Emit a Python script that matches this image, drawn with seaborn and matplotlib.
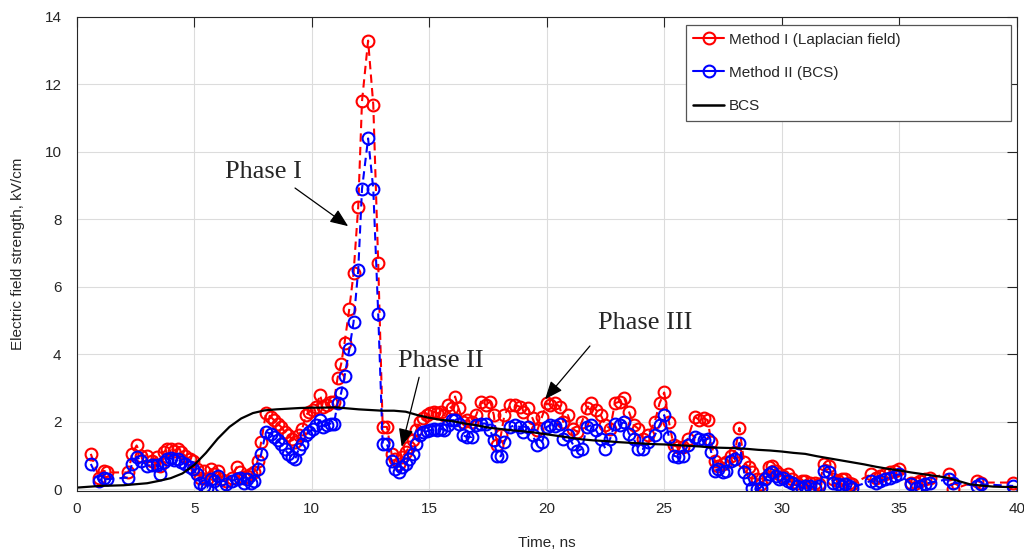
import numpy as np
import pandas as pd
import matplotlib
matplotlib.use("Agg")
import matplotlib.pyplot as plt
import seaborn as sns
from matplotlib.lines import Line2D

# ---------------- data ----------------
time_ns = [0.6, 0.95, 1.15, 1.3, 2.2, 2.35, 2.55, 2.75, 3.0, 3.2, 3.4, 3.55, 3.7, 3.85, 4.0, 4.15,
           4.3, 4.45, 4.6, 4.8, 4.95, 5.1, 5.25, 5.4, 5.55, 5.7, 5.85, 6.0, 6.15, 6.35, 6.6, 6.8,
           6.95, 7.1, 7.25, 7.4, 7.55, 7.7, 7.85, 8.05, 8.25, 8.4, 8.55, 8.7, 8.85, 9.0, 9.15, 9.3,
           9.45, 9.6, 9.75, 9.9, 10.05, 10.2, 10.35, 10.5, 10.65, 10.8, 10.95, 11.1, 11.25, 11.4,
           11.6, 11.78, 11.98, 12.14, 12.4, 12.62, 12.83, 13.02, 13.2, 13.4, 13.55, 13.7, 13.85,
           14.0, 14.15, 14.3, 14.45, 14.6, 14.75, 14.9, 15.05, 15.2, 15.35, 15.5, 15.65, 15.8,
           15.95, 16.1, 16.25, 16.45, 16.6, 16.8, 17.0, 17.2, 17.4, 17.6, 17.75, 17.9, 18.05,
           18.2, 18.45, 18.65, 18.85, 19.0, 19.2, 19.4, 19.6, 19.8, 20.0, 20.15, 20.35, 20.55,
           20.7, 20.9, 21.1, 21.3, 21.5, 21.7, 21.9, 22.1, 22.3, 22.5, 22.7, 22.9, 23.1, 23.3,
           23.5, 23.7, 23.9, 24.1, 24.3, 24.6, 24.8, 25.0, 25.2, 25.4, 25.6, 25.8, 26.0, 26.3,
           26.5, 26.7, 26.85, 27.0, 27.15, 27.3, 27.5, 27.65, 27.85, 28.0, 28.2, 28.4, 28.6,
           28.75, 28.95, 29.1, 29.3, 29.45, 29.6, 29.75, 29.9, 30.05, 30.25, 30.45, 30.65, 30.85,
           31.0, 31.2, 31.4, 31.6, 31.8, 32.0, 32.2, 32.4, 32.55, 32.7, 32.85, 33.0, 33.8, 34.0,
           34.2, 34.4, 34.6, 34.8, 35.0, 35.5, 35.7, 35.9, 36.1, 36.3, 37.1, 37.3, 38.3, 38.5,
           39.85]

method1_laplacian = [1.05, 0.35, 0.55, 0.5, 0.5, 1.05, 1.3, 1.0, 1.0, 0.85, 0.95, 0.7, 1.1, 1.2,
                     1.2, 1.15, 1.2, 1.1, 1.0, 0.9, 0.85, 0.6, 0.35, 0.55, 0.3, 0.6, 0.45, 0.55,
                     0.3, 0.25, 0.35, 0.65, 0.5, 0.35, 0.4, 0.45, 0.5, 0.85, 1.4, 2.25, 2.15, 2.05,
                     1.95, 1.85, 1.7, 1.6, 1.5, 1.4, 1.6, 1.8, 2.2, 2.3, 2.35, 2.45, 2.8, 2.45,
                     2.5, 2.6, 2.6, 3.3, 3.7, 4.35, 5.35, 6.4, 8.38, 11.5, 13.3, 11.4, 6.7, 1.85,
                     1.85, 1.05, 0.9, 0.75, 0.95, 1.1, 1.25, 1.45, 1.75, 2.0, 2.1, 2.2, 2.25, 2.3,
                     2.25, 2.3, 2.2, 2.5, 2.4, 2.75, 2.4, 2.0, 2.05, 2.0, 2.2, 2.6, 2.5, 2.6, 2.2,
                     1.3, 1.6, 2.2, 2.5, 2.5, 2.45, 2.3, 2.4, 2.1, 1.75, 2.15, 2.55, 2.5, 2.56,
                     2.45, 2.0, 2.2, 1.8, 1.7, 2.0, 2.4, 2.55, 2.35, 2.2, 1.9, 1.8, 2.55, 2.6, 2.7,
                     2.3, 1.9, 1.8, 1.5, 1.6, 2.0, 2.55, 2.87, 2.0, 1.3, 1.25, 1.25, 1.5, 2.15,
                     2.05, 2.1, 2.05, 1.4, 0.85, 0.7, 0.75, 0.8, 1.0, 1.1, 1.82, 0.8, 0.65, 0.5,
                     0.3, 0.15, 0.35, 0.65, 0.7, 0.55, 0.45, 0.4, 0.45, 0.3, 0.2, 0.25, 0.25, 0.2,
                     0.2, 0.15, 0.75, 0.7, 0.3, 0.25, 0.3, 0.3, 0.2, 0.15, 0.45, 0.35, 0.4, 0.45,
                     0.5, 0.55, 0.6, 0.2, 0.2, 0.25, 0.3, 0.35, 0.45, 0.0, 0.25, 0.2, 0.2]

method2_bcs = [0.75, 0.25, 0.35, 0.3, 0.35, 0.75, 0.97, 0.85, 0.7, 0.72, 0.72, 0.45, 0.8, 0.9,
               0.92, 0.88, 0.9, 0.8, 0.75, 0.65, 0.6, 0.45, 0.2, 0.1, 0.05, 0.3, 0.25, 0.4, 0.1,
               0.15, 0.25, 0.3, 0.35, 0.2, 0.3, 0.2, 0.25, 0.6, 1.05, 1.7, 1.65, 1.55, 1.45,
               1.35, 1.2, 1.05, 0.95, 0.9, 1.2, 1.35, 1.6, 1.7, 1.8, 1.9, 2.05, 1.85, 1.9, 1.95,
               1.95, 2.55, 2.85, 3.35, 4.15, 4.95, 6.5, 8.9, 10.4, 8.9, 5.2, 1.35, 1.35, 0.85,
               0.6, 0.5, 0.65, 0.75, 0.9, 1.05, 1.35, 1.6, 1.7, 1.72, 1.75, 1.78, 1.75, 1.8,
               1.75, 1.9, 2.05, 2.05, 1.95, 1.6, 1.55, 1.55, 1.9, 1.95, 1.95, 1.75, 1.45, 0.98,
               0.98, 1.4, 1.85, 1.9, 1.85, 1.7, 1.85, 1.6, 1.3, 1.4, 1.85, 1.9, 1.87, 1.95, 1.5,
               1.6, 1.35, 1.13, 1.2, 1.85, 1.9, 1.75, 1.5, 1.2, 1.5, 1.95, 1.9, 2.0, 1.65, 1.5,
               1.2, 1.2, 1.4, 1.6, 1.9, 2.2, 1.55, 1.0, 0.95, 1.0, 1.3, 1.55, 1.5, 1.45, 1.5,
               1.1, 0.55, 0.6, 0.5, 0.55, 0.85, 0.9, 1.38, 0.5, 0.3, 0.05, 0.0, 0.05, 0.3, 0.45,
               0.5, 0.4, 0.3, 0.35, 0.25, 0.2, 0.1, 0.05, 0.1, 0.1, 0.05, 0.1, 0.55, 0.5, 0.2,
               0.15, 0.1, 0.15, 0.1, 0.05, 0.25, 0.2, 0.25, 0.3, 0.35, 0.4, 0.45, 0.15, 0.05,
               0.1, 0.15, 0.2, 0.3, 0.2, 0.1, 0.15, 0.1]

bcs_time = [0, 1, 2, 3, 3.5, 4, 4.5, 5, 5.5, 6, 6.5, 7, 7.5, 8, 8.5, 9, 9.5, 10, 10.5, 11,
            11.5, 12, 12.5, 13, 13.5, 14, 14.5, 15, 15.5, 16, 16.5, 17, 17.5, 18, 18.5, 19,
            19.5, 20, 20.5, 21, 21.5, 22, 22.5, 23, 23.5, 24, 24.5, 25, 25.5, 26, 26.5, 27,
            27.5, 28, 28.5, 29, 29.5, 30, 30.5, 31, 31.5, 32, 32.5, 33, 33.5, 34, 34.5, 35,
            35.5, 36, 36.5, 37, 37.5, 38, 38.5, 39, 39.5, 40]
bcs_field = [0.05, 0.1, 0.12, 0.18, 0.25, 0.33, 0.47, 0.72, 1.08, 1.5, 1.85, 2.1, 2.26, 2.34,
             2.37, 2.39, 2.41, 2.42, 2.42, 2.43, 2.4, 2.37, 2.35, 2.33, 2.33, 2.3, 2.2, 2.12,
             2.06, 2.02, 1.95, 1.9, 1.83, 1.79, 1.75, 1.72, 1.68, 1.63, 1.58, 1.53, 1.48, 1.45,
             1.43, 1.4, 1.38, 1.36, 1.34, 1.33, 1.31, 1.29, 1.27, 1.24, 1.23, 1.22, 1.2, 1.17,
             1.15, 1.12, 1.08, 1.05, 0.98, 0.92, 0.86, 0.8, 0.74, 0.67, 0.61, 0.56, 0.5, 0.45,
             0.4, 0.35, 0.25, 0.15, 0.11, 0.08, 0.07, 0.07]

legend_labels = ["Method I (Laplacian field)", "Method II (BCS)", "BCS"]
x_ticks = [0, 5, 10, 15, 20, 25, 30, 35, 40]
y_ticks = [0, 2, 4, 6, 8, 10, 12, 14]

# ---------------- style ----------------
sns.set_style("whitegrid")
plt.rcParams["font.family"] = ["Liberation Sans", "DejaVu Sans"]
dark = "#262626"
fs = 11

fig = plt.figure(figsize=(10.24, 5.57), dpi=100)
ax = fig.add_axes([0.0749, 0.1185, 0.918, 0.851])

df = pd.DataFrame({"t": time_ns, "m1": method1_laplacian, "m2": method2_bcs})
dfb = pd.DataFrame({"t": bcs_time, "e": bcs_field})

ms = 8.5
mew = 1.5
sns.lineplot(data=df, x="t", y="m1", ax=ax, color="red", linestyle="--", marker="o",
             markersize=ms, markerfacecolor="none", markeredgecolor="red",
             markeredgewidth=mew, linewidth=1.5, estimator=None, sort=False, legend=False)
ax.lines[-1].set_dashes([4, 2.5])
sns.lineplot(data=df, x="t", y="m2", ax=ax, color="blue", linestyle="--", marker="o",
             markersize=ms, markerfacecolor="none", markeredgecolor="blue",
             markeredgewidth=mew, linewidth=1.5, estimator=None, sort=False, legend=False)
ax.lines[-1].set_dashes([4, 2.5])
sns.lineplot(data=dfb, x="t", y="e", ax=ax, color="black", linewidth=1.6,
             estimator=None, sort=False, legend=False)

ax.set_xlim(0, 40)
ax.set_ylim(-0.05, 14)
ax.set_xticks(x_ticks)
ax.set_yticks(y_ticks)
ax.set_xticklabels([str(v) for v in x_ticks])
ax.set_yticklabels([str(v) for v in y_ticks])
ax.grid(True, color="#dcdcdc", linewidth=0.8)
ax.set_facecolor("white")
for s in ax.spines.values():
    s.set_visible(True)
    s.set_color(dark)
    s.set_linewidth(0.8)
ax.tick_params(axis="both", which="both", direction="in", length=7, width=0.8,
               colors=dark, labelsize=fs, top=True, right=True,
               labelcolor=dark)
ax.tick_params(axis="x", pad=8)
ax.tick_params(axis="y", pad=11)

ax.set_xlabel("Time, ns", fontsize=fs, color=dark, labelpad=14)
ax.set_ylabel("Electric field strength, kV/cm", fontsize=fs, color=dark, labelpad=14)

# legend
handles = [
    Line2D([], [], color="red", marker="o", markerfacecolor="none", markersize=ms,
           markeredgewidth=mew, linewidth=1.5),
    Line2D([], [], color="blue", marker="o", markerfacecolor="none", markersize=ms,
           markeredgewidth=mew, linewidth=1.5),
    Line2D([], [], color="black", linewidth=1.8),
]
leg = ax.legend(handles, legend_labels, loc="upper left",
                bbox_to_anchor=(0.648, 0.983, 0.346, 0.0), mode="expand",
                fontsize=fs, frameon=True, fancybox=False, framealpha=1,
                edgecolor="#555555", handlelength=2.0, handletextpad=0.3,
                labelspacing=1.25, borderpad=0.5, borderaxespad=0.0)
leg.get_frame().set_linewidth(0.9)

# phase annotations
serif = ["Liberation Serif", "DejaVu Serif"]
ax.text(7.93, 9.24, "Phase I", fontsize=19, family=serif, ha="center", va="baseline")
ax.text(15.49, 3.63, "Phase II", fontsize=19, family=serif, ha="center", va="baseline")
ax.text(24.2, 4.74, "Phase III", fontsize=19, family=serif, ha="center", va="baseline")

arrow_kw = dict(arrowstyle="-|>,head_length=1.1,head_width=0.45", color="black",
                lw=0.9, mutation_scale=10, shrinkA=0, shrinkB=0)
ax.annotate("", xy=(11.55, 7.8), xytext=(9.29, 8.93), arrowprops=arrow_kw)
ax.annotate("", xy=(13.83, 1.26), xytext=(14.57, 3.32), arrowprops=arrow_kw)
ax.annotate("", xy=(19.93, 2.67), xytext=(21.84, 4.25), arrowprops=arrow_kw)

fig.savefig("out.png", dpi=100)
